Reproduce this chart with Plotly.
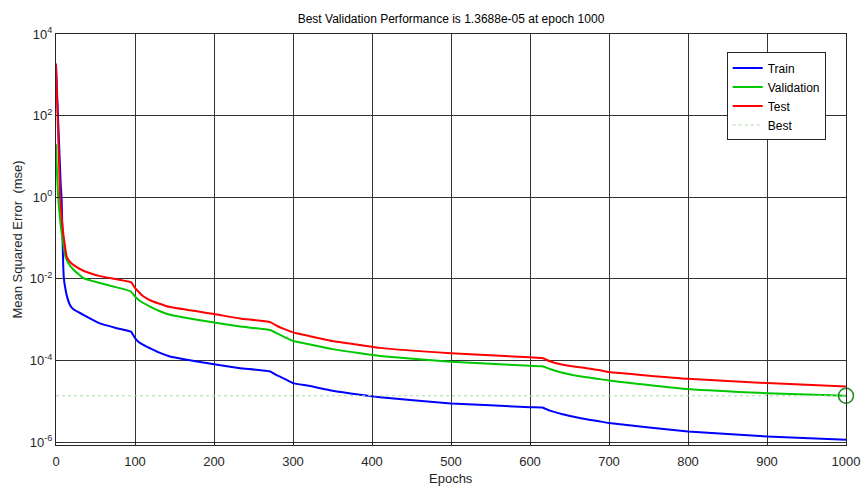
import plotly.graph_objects as go

# Training record: epochs and mean squared error for each data split
train_epochs = [0, 6, 7.2, 8, 9.2, 10, 11.4, 13.5, 17.7, 22, 34.6, 55.7, 76.8, 94.9,
                100, 105, 110, 119, 130, 144.3, 200, 233, 271, 280, 290, 300, 320, 350,
                385, 410, 500, 600, 615.6, 625, 640, 663, 689, 700, 800, 900, 1000]
train_mse = [1.6e3, 2.0, 0.85, 0.16, 0.02, 0.01, 6.5e-3, 4.0e-3, 2.3e-3, 1.8e-3, 1.32e-3,
             8.1e-4, 6.2e-4, 5.1e-4, 3.55e-4, 2.8e-4, 2.45e-4, 2.0e-4, 1.58e-4, 1.26e-4,
             8.1e-5, 6.5e-5, 5.4e-5, 4.3e-5, 3.5e-5, 2.8e-5, 2.4e-5, 1.82e-5, 1.45e-5,
             1.26e-5, 8.9e-6, 7.2e-6, 7.1e-6, 5.9e-6, 4.9e-6, 3.9e-6, 3.2e-6, 2.95e-6,
             1.82e-6, 1.38e-6, 1.15e-6]

val_epochs = [0, 1, 3, 6, 9.2, 12, 15.6, 21.9, 34.6, 55.7, 76.8, 94.9, 100, 105, 110,
              119, 130, 144.3, 200, 233, 271, 280, 290, 300, 320, 350, 385, 410, 500,
              600, 615.6, 625, 640, 663, 689, 700, 800, 900, 1000]
val_mse = [20, 5.0, 0.85, 0.2, 0.071, 0.035, 0.0245, 0.017, 0.0105, 7.9e-3, 6.2e-3,
           4.9e-3, 3.7e-3, 3.0e-3, 2.6e-3, 2.1e-3, 1.66e-3, 1.32e-3, 8.5e-4, 6.8e-4,
           5.6e-4, 4.6e-4, 3.7e-4, 3.0e-4, 2.5e-4, 1.9e-4, 1.5e-4, 1.29e-4, 9.3e-5,
           7.4e-5, 7.2e-5, 6.2e-5, 5.1e-5, 4.1e-5, 3.5e-5, 3.25e-5, 2.0e-5, 1.58e-5,
           1.3688e-5]

test_epochs = [0, 5, 7, 9.2, 11.4, 13.5, 17.7, 21.9, 34.6, 55.7, 76.8, 94.9, 100, 105,
               110, 119, 130, 144.3, 200, 233, 271, 280, 290, 300, 320, 350, 385, 410,
               500, 600, 615.6, 625, 640, 663, 689, 700, 800, 900, 1000]
test_mse = [1.9e3, 1.25, 0.35, 0.13, 0.063, 0.035, 0.026, 0.022, 0.0158, 0.0117,
            9.8e-3, 8.3e-3, 6.0e-3, 4.7e-3, 3.8e-3, 3.0e-3, 2.5e-3, 2.04e-3, 1.38e-3,
            1.07e-3, 8.7e-4, 7.0e-4, 5.8e-4, 4.9e-4, 4.0e-4, 3.0e-4, 2.4e-4, 2.04e-4,
            1.51e-4, 1.2e-4, 1.15e-4, 9.6e-5, 8.0e-5, 6.8e-5, 5.75e-5, 5.2e-5, 3.55e-5,
            2.8e-5, 2.3e-5]

best_epoch = 1000
best_perf = 1.3688e-05

x_ticks = [0, 100, 200, 300, 400, 500, 600, 700, 800, 900, 1000]
y_ticks = [1e-6, 1e-4, 1e-2, 1e0, 1e2, 1e4]
y_tick_text = ["10<sup>-6</sup>", "10<sup>-4</sup>", "10<sup>-2</sup>",
               "10<sup>0</sup>", "10<sup>2</sup>", "10<sup>4</sup>"]

FONT = "Liberation Sans, Arial, Helvetica, sans-serif"

curve_line = dict(width=2, shape="spline", smoothing=0.4)

fig = go.Figure()
fig.add_trace(go.Scatter(x=train_epochs, y=train_mse, mode="lines", name="Train",
                         line=dict(color="#0000ff", **curve_line)))
fig.add_trace(go.Scatter(x=val_epochs, y=val_mse, mode="lines", name="Validation",
                         line=dict(color="#00c800", **curve_line)))
fig.add_trace(go.Scatter(x=test_epochs, y=test_mse, mode="lines", name="Test",
                         line=dict(color="#ff0000", **curve_line)))
fig.add_trace(go.Scatter(x=[0, 1000], y=[best_perf, best_perf], mode="lines", name="Best",
                         line=dict(color="#a8dca8", width=1, dash="dot")))
fig.add_trace(go.Scatter(x=[best_epoch], y=[best_perf], mode="markers", showlegend=False,
                         cliponaxis=False,
                         marker=dict(symbol="circle-open", size=15, color="#1f8a1f",
                                     line=dict(color="#1f8a1f", width=1.5))))

axis_common = dict(showline=True, linecolor="#262626", linewidth=1, mirror=True,
                   showgrid=True, gridcolor="#333333", gridwidth=1, zeroline=False,
                   ticks="inside", ticklen=4, tickcolor="#262626", automargin=False,
                   tickfont=dict(family=FONT, size=13, color="#262626"))

fig.update_xaxes(range=[0, 1000], tickvals=x_ticks, ticklabelstandoff=4, **axis_common)
fig.update_yaxes(type="log", range=[-6.07, 4], tickvals=y_ticks, ticktext=y_tick_text,
                 title=dict(text="Mean Squared Error  (mse)",
                            font=dict(family=FONT, size=13, color="#262626"), standoff=4),
                 **axis_common)

# x-axis title placed just below the tick labels
fig.add_annotation(text="Epochs", xref="paper", yref="paper", x=0.5, y=-0.0813,
                   xanchor="center", yanchor="middle", showarrow=False,
                   font=dict(family=FONT, size=13, color="#262626"))

fig.update_layout(
    width=861, height=487,
    margin=dict(l=56, r=15, t=33.5, b=41.5, autoexpand=False),
    paper_bgcolor="white", plot_bgcolor="white",
    title=dict(text="Best Validation Performance is 1.3688e-05 at epoch 1000",
               x=0.5, xref="paper", y=1 - 19 / 487, yanchor="middle",
               font=dict(family=FONT, size=12, color="#000000")),
    legend=dict(x=0.849, y=0.955, xanchor="left", yanchor="top",
                bgcolor="white", bordercolor="#262626", borderwidth=1,
                font=dict(family=FONT, size=12, color="#000000"),
                itemwidth=30, tracegroupgap=0),
    showlegend=True,
)

fig.write_html("out.html")
